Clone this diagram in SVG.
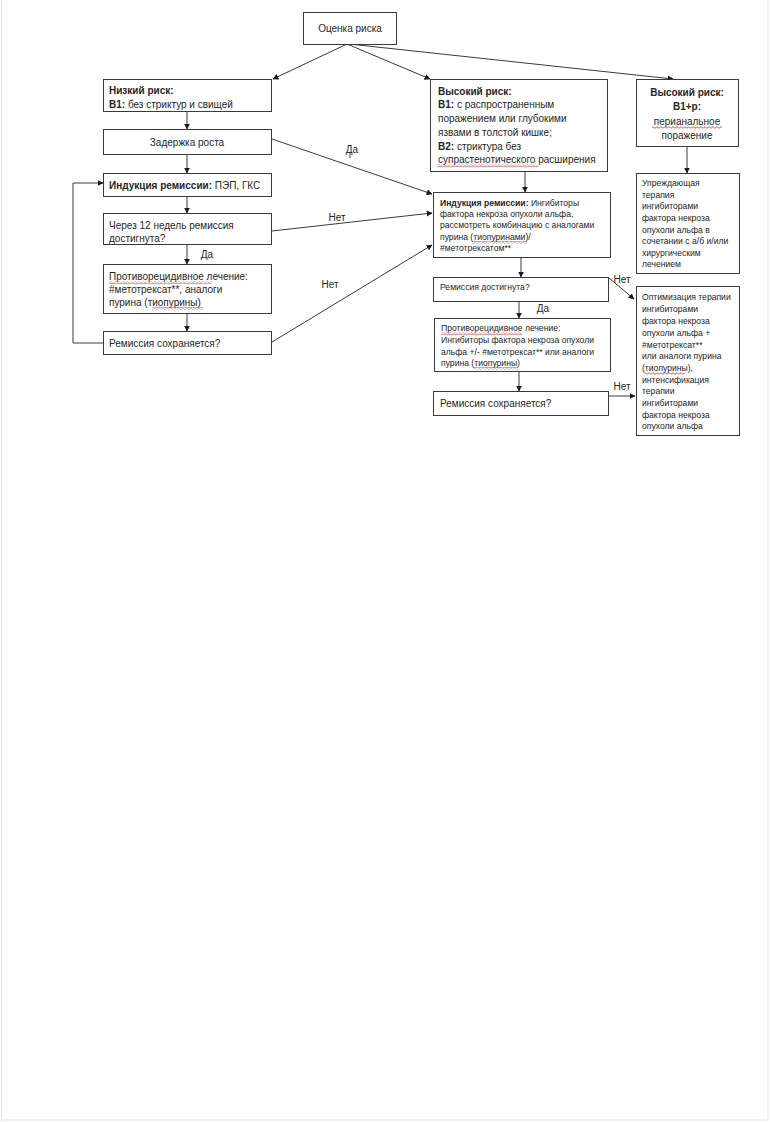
<svg xmlns="http://www.w3.org/2000/svg" width="770" height="1122" viewBox="0 0 770 1122">
<style>
.bx{fill:#fff;stroke:#3a3a3a;stroke-width:1}
.t{font-family:"Liberation Sans",Arial,sans-serif;font-size:10px;fill:#262626}
.s{font-size:8.6px}
.b{font-weight:bold}
.c{text-anchor:middle}
.ln{stroke:#3a3a3a;stroke-width:1;fill:none}
.w{fill:url(#wv)}
</style>
<defs>
<marker id="ar" viewBox="0 0 10 10" refX="9" refY="5" markerWidth="6" markerHeight="6" orient="auto" markerUnits="userSpaceOnUse">
<path d="M0 0 L10 5 L0 10 z" fill="#1a1a1a"/>
</marker>
<pattern id="wv" width="4" height="3" patternUnits="userSpaceOnUse">
<path d="M0 1.5 Q1 0 2 1.5 T4 1.5" stroke="#d83030" stroke-width="0.8" fill="none"/>
</pattern>
</defs>
<rect x="1.5" y="-1" width="766.5" height="1121" fill="#fff" stroke="#e2e2e2" stroke-width="1"/>

<g id="connectors">
<line class="ln" x1="347" y1="44" x2="273" y2="79" marker-end="url(#ar)"/>
<line class="ln" x1="347" y1="44" x2="430" y2="79" marker-end="url(#ar)"/>
<line class="ln" x1="349" y1="44" x2="673" y2="79" marker-end="url(#ar)"/>
<line class="ln" x1="187" y1="112" x2="187" y2="129" marker-end="url(#ar)"/>
<line class="ln" x1="187" y1="155" x2="187" y2="173" marker-end="url(#ar)"/>
<line class="ln" x1="187" y1="197" x2="187" y2="213" marker-end="url(#ar)"/>
<line class="ln" x1="187" y1="245" x2="187" y2="264" marker-end="url(#ar)"/>
<line class="ln" x1="187" y1="314" x2="187" y2="331" marker-end="url(#ar)"/>
<polyline class="ln" points="103,343 73,343 73,183 103,183" marker-end="url(#ar)"/>
<line class="ln" x1="272" y1="139" x2="432" y2="194" marker-end="url(#ar)"/>
<line class="ln" x1="272" y1="231" x2="432" y2="213" marker-end="url(#ar)"/>
<line class="ln" x1="272" y1="342" x2="432" y2="245" marker-end="url(#ar)"/>
<line class="ln" x1="350" y1="152" x2="350" y2="158"/>
<line class="ln" x1="525" y1="172" x2="525" y2="192" marker-end="url(#ar)"/>
<line class="ln" x1="687" y1="147" x2="687" y2="173" marker-end="url(#ar)"/>
<line class="ln" x1="521" y1="258" x2="521" y2="277" marker-end="url(#ar)"/>
<line class="ln" x1="519" y1="302" x2="519" y2="318" marker-end="url(#ar)"/>
<line class="ln" x1="519" y1="372" x2="519" y2="391" marker-end="url(#ar)"/>
<line class="ln" x1="609" y1="278" x2="634" y2="299" marker-end="url(#ar)"/>
<line class="ln" x1="609" y1="396" x2="635" y2="396" marker-end="url(#ar)"/>
<text class="t c" x="352" y="153">Да</text>
<text class="t c" x="337" y="221">Нет</text>
<text class="t c" x="330" y="288">Нет</text>
<text class="t c" x="207" y="258">Да</text>
<text class="t c" x="622" y="283">Нет</text>
<text class="t c" x="543" y="312">Да</text>
<text class="t c" x="622" y="390">Нет</text>
</g>

<g id="n-ocenka">
<rect class="bx" x="303.5" y="12.5" width="93" height="32"/>
<text class="t c" x="350" y="32">Оценка риска</text>
</g>

<g id="n-low">
<rect class="bx" x="103.5" y="79.5" width="168" height="32"/>
<text class="t b" x="109" y="94">Низкий риск:</text>
<text class="t" x="109" y="108"><tspan class="b">В1:</tspan> без стриктур и свищей</text>
</g>

<g id="n-growth">
<rect class="bx" x="103.5" y="129.5" width="168" height="25"/>
<text class="t c" x="187" y="146">Задержка роста</text>
</g>

<g id="n-induct1">
<rect class="bx" x="103.5" y="173.5" width="168" height="23"/>
<text class="t" x="109" y="189"><tspan class="b">Индукция ремиссии:</tspan> ПЭП, ГКС</text>
</g>

<g id="n-12w">
<rect class="bx" x="103.5" y="213.5" width="168" height="31"/>
<text class="t" x="109" y="229">Через 12 недель ремиссия</text>
<text class="t" x="109" y="242">достигнута?</text>
</g>

<g id="n-maint1">
<rect class="bx" x="103.5" y="264.5" width="168" height="49"/>
<text class="t" x="109" y="280">Противорецидивное лечение:</text>
<text class="t" x="109" y="293">#метотрексат**, аналоги</text>
<text class="t" x="109" y="306">пурина (тиопурины)</text>
<rect class="w" x="109" y="281" width="103" height="3"/>
<rect class="w" x="152" y="307" width="51" height="3"/>
</g>

<g id="n-keep1">
<rect class="bx" x="103.5" y="331.5" width="168" height="23"/>
<text class="t" x="109" y="347">Ремиссия сохраняется?</text>
</g>

<g id="n-high">
<rect class="bx" x="430.5" y="79.5" width="177" height="92"/>
<text class="t b" x="438" y="95">Высокий риск:</text>
<text class="t" x="438" y="108"><tspan class="b">В1:</tspan> с распространенным</text>
<text class="t" x="438" y="122">поражением или глубокими</text>
<text class="t" x="438" y="136">язвами в толстой кишке;</text>
<text class="t" x="438" y="150"><tspan class="b">В2:</tspan> стриктура без</text>
<text class="t" x="438" y="163">супрастенотического расширения</text>
<rect class="w" x="438" y="164" width="100" height="3"/>
</g>

<g id="n-perianal">
<rect class="bx" x="636.5" y="79.5" width="102" height="67"/>
<text class="t b c" x="687" y="96">Высокий риск:</text>
<text class="t b c" x="687" y="110">В1+p:</text>
<text class="t c" x="687" y="125">перианальное</text>
<text class="t c" x="687" y="139">поражение</text>
<rect class="w" x="652" y="126" width="70" height="3"/>
</g>

<g id="n-induct2">
<rect class="bx" x="433.5" y="192.5" width="177" height="65"/>
<text class="t s" x="440" y="206"><tspan class="b">Индукция ремиссии:</tspan> Ингибиторы</text>
<text class="t s" x="440" y="217">фактора некроза опухоли альфа,</text>
<text class="t s" x="440" y="228">рассмотреть комбинацию с аналогами</text>
<text class="t s" x="440" y="240">пурина (тиопуринами)/</text>
<text class="t s" x="440" y="251">#метотрексатом**</text>
<rect class="w" x="472" y="241" width="55" height="3"/>
</g>

<g id="n-reach2">
<rect class="bx" x="433.5" y="277.5" width="175" height="24"/>
<text class="t s" x="440" y="290">Ремиссия достигнута?</text>
</g>

<g id="n-maint2">
<rect class="bx" x="434.5" y="318.5" width="176" height="53"/>
<text class="t s" x="441" y="331">Противорецидивное лечение:</text>
<text class="t s" x="441" y="343">Ингибиторы фактора некроза опухоли</text>
<text class="t s" x="441" y="355">альфа +/- #метотрексат** или аналоги</text>
<text class="t s" x="441" y="366">пурина (тиопурины)</text>
<rect class="w" x="441" y="332" width="81" height="3"/>
<rect class="w" x="473" y="367" width="45" height="3"/>
</g>

<g id="n-keep2">
<rect class="bx" x="433.5" y="391.5" width="175" height="24"/>
<text class="t" x="440" y="407">Ремиссия сохраняется?</text>
</g>

<g id="n-preempt">
<rect class="bx" x="636.5" y="173.5" width="103" height="100"/>
<text class="t s" x="642" y="186">Упреждающая</text>
<text class="t s" x="642" y="198">терапия</text>
<text class="t s" x="642" y="209">ингибиторами</text>
<text class="t s" x="642" y="221">фактора некроза</text>
<text class="t s" x="642" y="233">опухоли альфа в</text>
<text class="t s" x="642" y="244">сочетании с а/б и/или</text>
<text class="t s" x="642" y="256">хирургическим</text>
<text class="t s" x="642" y="267">лечением</text>
</g>

<g id="n-optim">
<rect class="bx" x="636.5" y="286.5" width="103" height="149"/>
<text class="t s" x="642" y="300">Оптимизация терапии</text>
<text class="t s" x="642" y="312">ингибиторами</text>
<text class="t s" x="642" y="324">фактора некроза</text>
<text class="t s" x="642" y="336">опухоли альфа +</text>
<text class="t s" x="642" y="348">#метотрексат**</text>
<text class="t s" x="642" y="359">или аналоги пурина</text>
<text class="t s" x="642" y="371">(тиопурины),</text>
<text class="t s" x="642" y="383">интенсификация</text>
<text class="t s" x="642" y="394">терапии</text>
<text class="t s" x="642" y="406">ингибиторами</text>
<text class="t s" x="642" y="418">фактора некроза</text>
<text class="t s" x="642" y="429">опухоли альфа</text>
<rect class="w" x="645" y="372" width="40" height="3"/>
</g>
</svg>
